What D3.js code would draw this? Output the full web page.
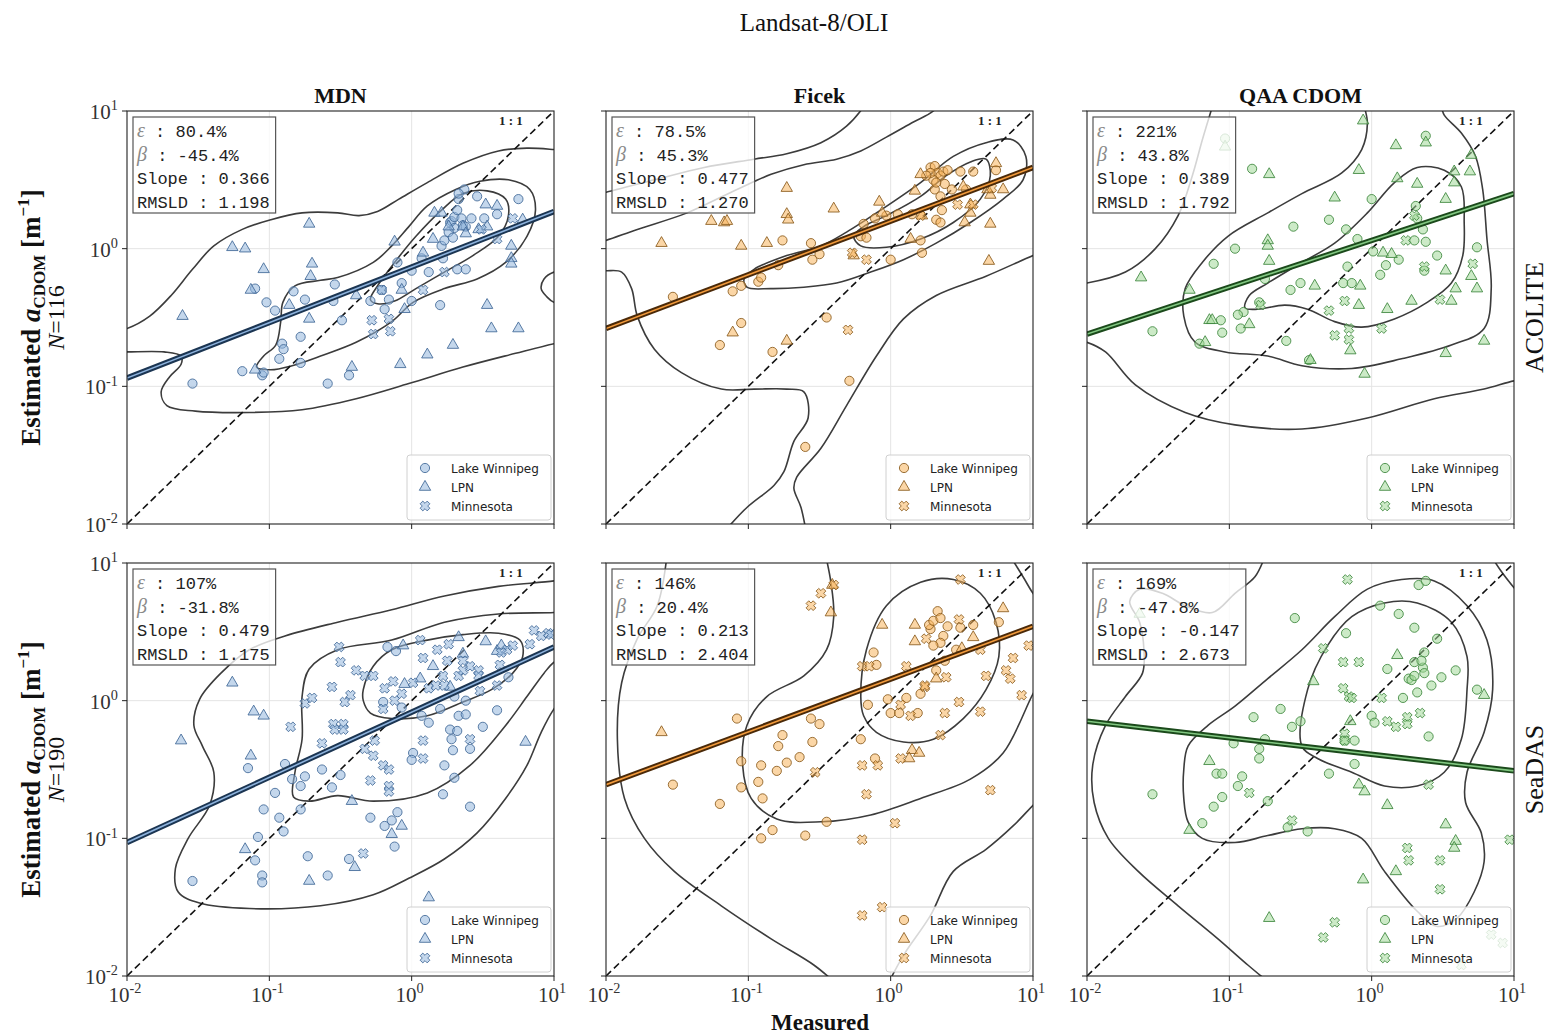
<!DOCTYPE html>
<html>
<head>
<meta charset="utf-8">
<script src="https://cdn.jsdelivr.net/npm/d3@7"></script>
<style>
  body { margin: 0; background: #fff; }
</style>
</head>
<body>
<svg id="chart" width="1550" height="1035"></svg>
<script>
// ---------------------------------------------------------------
// Figure labels
// ---------------------------------------------------------------
const figureTitle = "Landsat-8/OLI";
const methodNames = ["MDN", "Ficek", "QAA CDOM"];
const processorNames = ["ACOLITE", "SeaDAS"];
const sampleCounts = [116, 190];
const siteNames = ["Lake Winnipeg", "LPN", "Minnesota"];
const tickValues = [0.01, 0.1, 1, 10];
const tickExponents = ["-2", "-1", "0", "1"];

// Metrics per panel (row-major: ACOLITE row, then SeaDAS row)
const epsilonValues = ["80.4%", "78.5%", "221%", "107%", "146%", "169%"];
const betaValues = ["-45.4%", "45.3%", "43.8%", "-31.8%", "20.4%", "-47.8%"];
const slopeValues = ["0.366", "0.477", "0.389", "0.479", "0.213", "-0.147"];
const rmsldValues = ["1.198", "1.270", "1.792", "1.175", "2.404", "2.673"];

// Fitted line: log10(estimated) at measured = 0.01 and measured = 10
const fitLines = [
  [-0.94, 0.27], [-0.58, 0.59], [-0.62, 0.40],
  [-1.03, 0.39], [-0.61, 0.54], [-0.15, -0.51]
];

// ---------------------------------------------------------------
// Matchups, as [log10(measured), log10(estimated)]
// ---------------------------------------------------------------
const mdnAcoliteWinnipeg = [[-1.54,-0.98],[-1.19,-0.89],[-1.05,-0.92],[-1.04,-0.90],[-1.10,-0.29],[-1.02,-0.39],[-0.96,-0.45],[-0.91,-0.69],[-0.90,-0.73],[-0.93,-0.80],[-0.83,-0.31],[-0.78,-0.64],[-0.78,-0.83],[-0.75,-0.37],[-0.59,-0.98],[-0.54,-0.26],[-0.55,-0.38],[-0.49,-0.52],[-0.44,-0.92],[-0.29,-0.38],[-0.21,-0.30],[-0.19,-0.44],[-0.16,-0.37],[-0.10,-0.10],[-0.07,-0.25],[0.00,-0.38],[0.00,-0.16],[0.12,-0.17],[0.07,-0.07],[0.21,0.02],[0.22,-0.07],[0.20,-0.41],[0.23,0.06],[0.27,0.19],[0.28,0.20],[0.30,0.23],[0.32,0.28],[0.33,0.36],[0.37,0.43],[0.33,0.40],[0.32,-0.15],[0.38,-0.15],[0.35,0.22],[0.42,0.22],[0.46,0.38],[0.51,0.22],[0.60,0.25],[0.75,0.36],[0.36,0.17],[0.38,0.16],[0.30,0.15],[0.26,0.12],[0.29,0.08]];
const mdnAcoliteLPN = [[-1.61,-0.49],[-1.26,0.01],[-1.17,0.00],[-1.04,-0.15],[-1.13,-0.30],[-1.10,-0.88],[-0.72,0.18],[-0.70,-0.11],[-0.71,-0.20],[-0.72,-0.51],[-0.86,-0.41],[-0.42,-0.86],[-0.39,-0.34],[-0.08,-0.84],[-0.07,-0.30],[-0.05,-0.44],[0.11,-0.77],[0.29,-0.70],[0.08,-0.03],[0.15,0.07],[0.16,0.26],[0.21,0.26],[0.26,0.16],[0.36,0.16],[0.38,0.11],[0.52,0.32],[0.60,0.31],[0.53,-0.41],[0.56,-0.58],[0.75,-0.58],[0.70,0.02],[0.70,-0.07],[0.70,-0.11],[0.78,0.21],[0.53,0.16],[0.47,0.14],[-0.12,0.05]];
const mdnAcoliteMinnesota = [[-0.28,-0.52],[-0.27,-0.62],[-0.16,-0.51],[-0.15,-0.60],[-0.21,-0.30],[0.23,-0.17],[0.08,-0.30],[0.49,0.14],[0.71,0.22],[0.60,0.07]];

const ficekAcoliteWinnipeg = [[-1.53,-0.35],[-1.20,-0.70],[-1.11,-0.31],[-1.05,-0.27],[-1.05,-0.54],[-0.93,-0.24],[-0.91,-0.21],[-0.83,-0.75],[-0.76,0.06],[-0.79,-0.12],[-0.56,0.04],[-0.55,-0.08],[-0.50,-0.04],[-0.45,-0.50],[-0.29,-0.96],[-0.60,-1.44],[-0.19,0.18],[-0.21,0.09],[-0.17,0.08],[-0.11,0.22],[-0.03,0.24],[0.00,-0.08],[0.05,0.25],[0.15,0.25],[0.22,-0.03],[0.21,0.06],[0.32,0.21],[0.35,0.19],[0.28,0.59],[0.31,0.60],[0.33,0.55],[0.35,0.53],[0.30,0.50],[0.37,0.56],[0.40,0.57],[0.31,0.43],[0.35,0.38],[0.38,0.47],[0.49,0.56],[0.58,0.56],[0.74,0.57],[0.43,0.43],[0.53,0.43],[0.32,0.48],[0.28,0.55],[0.25,0.53],[0.36,0.28]];
const ficekAcoliteLPN = [[-1.61,0.04],[-1.26,0.20],[-1.17,0.19],[-1.15,0.20],[-1.05,0.02],[-0.73,0.44],[-0.73,0.25],[-0.72,0.21],[-0.87,0.04],[-0.40,0.29],[-1.11,-0.61],[-0.73,-0.67],[-0.08,0.34],[-0.06,0.26],[-0.26,-0.05],[0.14,0.07],[0.17,0.42],[0.21,0.54],[0.51,0.45],[0.56,0.26],[0.52,0.19],[0.70,0.39],[0.74,0.62],[0.79,0.43],[0.70,0.18],[0.69,-0.09],[0.68,0.43],[0.56,0.32],[0.22,0.24]];
const ficekAcoliteMinnesota = [[-0.30,-0.59],[-0.27,-0.03],[-0.17,-0.08],[0.47,0.32],[0.71,0.44],[0.58,0.32],[0.21,0.24]];

const qaaAcoliteWinnipeg = [[-1.03,0.80],[-0.84,0.58],[0.38,0.82],[0.31,0.31],[0.32,0.22],[0.36,0.14],[0.30,0.06],[0.38,0.05],[0.46,-0.05],[0.37,-0.16],[0.74,0.01],[0.00,0.36],[-0.30,0.21],[-0.55,0.16],[-0.18,0.14],[-0.10,0.07],[0.01,-0.02],[0.19,-0.08],[0.10,-0.12],[0.06,-0.19],[-0.17,-0.13],[-0.20,-0.25],[-0.14,-0.25],[-0.50,-0.25],[-0.57,-0.30],[-0.75,-0.22],[-0.79,-0.39],[-0.96,0.00],[-1.11,-0.11],[-1.06,-0.52],[-1.05,-0.61],[-0.92,-0.58],[-0.90,-0.46],[-0.94,-0.48],[-0.60,-0.67],[-1.21,-0.69],[-1.54,-0.60],[-0.44,-0.81]];
const qaaAcoliteLPN = [[-1.03,0.74],[-0.72,0.54],[-0.06,0.93],[0.17,0.75],[0.38,0.77],[0.70,0.68],[0.69,0.56],[0.58,0.56],[0.18,0.51],[0.32,0.47],[0.58,0.48],[-0.09,0.57],[-0.26,0.37],[0.52,0.36],[-0.73,0.06],[-0.73,0.02],[-0.72,-0.09],[-1.62,-0.21],[-1.28,-0.30],[-1.14,-0.52],[-1.12,-0.52],[-1.17,-0.68],[-0.86,-0.55],[-0.40,-0.27],[-0.08,-0.27],[-0.09,-0.41],[0.11,-0.44],[0.28,-0.38],[0.08,-0.03],[0.14,-0.04],[0.52,-0.16],[0.59,-0.29],[0.56,-0.38],[0.70,-0.20],[0.74,-0.29],[0.79,-0.67],[0.52,-0.76],[-0.05,-0.91],[-0.15,-0.74],[-0.43,-0.81]];
const qaaAcoliteMinnesota = [[-0.78,-0.41],[-0.30,-0.45],[-0.19,-0.38],[-0.16,-0.58],[-0.16,-0.66],[-0.26,-0.63],[0.07,-0.58],[0.24,0.06],[0.30,0.24],[0.37,-0.13],[0.48,-0.37],[0.71,-0.11]];

const mdnSeadasWinnipeg = [[-1.54,-1.31],[-1.15,-0.49],[-1.08,-0.99],[-1.10,-1.16],[-1.05,-1.27],[-1.05,-1.32],[-1.04,-0.79],[-0.96,-0.67],[-0.93,-0.85],[-0.90,-0.95],[-0.89,-0.46],[-0.84,-0.57],[-0.78,-0.62],[-0.75,-0.55],[-0.78,-0.79],[-0.73,-1.13],[-0.63,-0.50],[-0.56,-0.63],[-0.50,-0.54],[-0.59,-1.27],[-0.44,-1.15],[-0.29,-0.85],[-0.19,-0.91],[-0.14,-0.87],[-0.10,-0.81],[-0.12,-1.06],[-0.20,-0.01],[-0.17,0.39],[-0.11,0.36],[-0.07,-0.05],[0.01,-0.38],[0.00,-0.43],[0.07,-0.11],[0.12,-0.16],[0.20,-0.06],[0.23,-0.47],[0.22,-0.68],[0.30,-0.56],[0.27,-0.21],[0.28,-0.28],[0.32,-0.22],[0.33,-0.11],[0.29,-0.36],[0.38,0.00],[0.38,-0.10],[0.41,-0.35],[0.41,-0.77],[0.50,-0.19],[0.60,-0.07],[0.68,0.17],[0.30,0.03]];
const mdnSeadasLPN = [[-1.62,-0.29],[-1.26,0.13],[-1.11,-0.08],[-1.04,-0.11],[-1.13,-0.40],[-1.17,-1.08],[-0.72,-1.31],[-0.42,-0.73],[-0.40,-1.21],[-0.14,-0.97],[-0.07,-0.91],[0.12,-1.43],[-0.06,0.40],[-0.05,0.12],[0.15,0.25],[0.27,0.10],[0.33,0.46],[0.52,0.43],[0.60,0.36],[0.63,0.40],[0.80,-0.30],[0.06,0.16],[0.36,0.34]];
const mdnSeadasMinnesota = [[-0.51,0.39],[-0.56,0.10],[-0.50,0.28],[-0.43,0.04],[-0.47,-0.01],[-0.55,-0.17],[-0.54,-0.21],[-0.48,-0.17],[-0.48,-0.21],[-0.85,-0.19],[-0.75,-0.02],[-0.70,0.02],[-0.63,-0.31],[-0.39,0.22],[-0.33,0.18],[-0.27,0.18],[-0.33,-0.35],[-0.29,-0.58],[-0.34,-1.11],[-0.27,-0.40],[-0.26,-0.29],[-0.20,-0.47],[-0.16,-0.50],[-0.16,-0.62],[-0.16,-0.66],[-0.20,-0.06],[-0.19,0.09],[-0.13,0.14],[-0.12,0.00],[-0.07,0.05],[0.01,0.13],[0.06,0.44],[0.08,0.31],[0.08,-0.29],[0.08,-0.42],[0.12,0.09],[0.17,0.11],[0.23,0.11],[0.26,0.41],[0.22,0.18],[0.33,0.18],[0.36,0.22],[0.41,0.25],[0.36,0.29],[0.47,0.22],[0.48,0.07],[0.41,-0.28],[0.47,0.18],[0.62,0.26],[0.67,0.37],[0.71,0.40],[0.63,0.35],[0.83,0.41],[0.86,0.51],[0.91,0.47],[0.96,0.49],[0.98,0.48],[0.18,0.37],[0.25,0.29],[0.60,0.11]];

const ficekSeadasWinnipeg = [[-1.53,-0.61],[-1.20,-0.75],[-1.08,-0.13],[-1.05,-0.44],[-1.05,-0.63],[-0.91,-0.47],[-0.93,-0.59],[-0.90,-0.71],[-0.91,-1.00],[-0.83,-0.94],[-0.79,-0.33],[-0.76,-0.25],[-0.80,-0.51],[-0.73,-0.45],[-0.64,-0.41],[-0.60,-0.98],[-0.56,-0.13],[-0.50,-0.17],[-0.55,-0.30],[-0.45,-0.88],[-0.21,-0.28],[-0.16,-0.03],[-0.12,0.35],[-0.11,-0.42],[-0.10,0.26],[-0.02,0.01],[0.00,-0.09],[0.06,-0.09],[0.11,0.02],[0.19,-0.09],[0.21,0.05],[0.32,0.22],[0.33,0.65],[0.28,0.52],[0.27,0.55],[0.30,0.58],[0.35,0.60],[0.40,0.54],[0.37,0.47],[0.35,0.42],[0.30,0.40],[0.46,0.37],[0.38,0.29],[0.58,0.55],[0.76,0.57],[0.49,0.53]];
const ficekSeadasLPN = [[-1.61,-0.23],[-0.41,0.84],[-0.42,0.64],[-0.06,0.55],[0.17,0.55],[0.17,0.43],[0.32,0.16],[0.58,0.46],[0.79,0.67],[0.15,-0.36],[0.13,-0.42],[0.20,-0.38],[0.50,0.38]];
const ficekSeadasMinnesota = [[-0.49,0.78],[-0.56,0.69],[-0.40,0.84],[-0.20,0.25],[-0.15,0.25],[0.11,0.25],[0.25,0.45],[0.24,0.10],[0.48,0.59],[0.49,0.88],[0.39,0.17],[0.38,-0.09],[0.35,-0.25],[0.14,-0.11],[0.07,-0.03],[0.07,-0.42],[0.48,-0.01],[0.63,-0.08],[0.67,0.18],[0.70,-0.65],[0.81,0.22],[0.84,0.16],[0.86,0.31],[0.92,0.04],[0.97,0.40],[-0.20,-0.47],[-0.09,-0.47],[-0.17,-0.68],[-0.20,-1.01],[0.03,-0.89],[-0.20,-1.56],[-0.06,-1.50],[-0.53,-0.52],[0.63,0.37],[0.24,0.11]];

const qaaSeadasWinnipeg = [[-1.54,-0.68],[-1.11,-0.77],[-1.09,-0.53],[-1.05,-0.53],[-1.05,-0.70],[-1.19,-0.89],[-0.94,-0.62],[-0.91,-0.55],[-0.97,-0.31],[-0.83,-0.12],[-0.79,-0.35],[-0.79,-0.42],[-0.75,-0.28],[-0.73,-0.73],[-0.64,-0.06],[-0.59,-0.92],[-0.56,-0.19],[-0.50,-0.15],[-0.54,0.60],[-0.45,-0.95],[-0.30,-0.53],[-0.18,0.49],[-0.19,-0.29],[-0.12,-0.29],[-0.12,-0.46],[0.00,-0.11],[0.02,-0.16],[0.06,0.69],[0.19,0.63],[0.11,0.23],[0.22,0.02],[0.30,0.53],[0.33,0.84],[0.38,0.87],[0.26,0.16],[0.28,0.15],[0.30,0.18],[0.30,0.28],[0.36,0.24],[0.37,0.20],[0.42,0.11],[0.32,0.06],[0.37,0.35],[0.35,0.29],[0.49,0.17],[0.46,0.45],[0.59,0.22],[0.40,-0.26],[0.74,0.08]];
const qaaSeadasLPN = [[-1.63,0.63],[-1.14,-0.44],[-1.28,-0.94],[-0.72,-1.58],[-0.41,0.14],[-0.15,-0.15],[-0.09,-0.61],[-0.05,-0.66],[0.11,-0.76],[0.17,-1.24],[-0.06,-1.30],[0.18,0.33],[0.52,-0.90],[0.59,-1.02],[0.58,-1.07],[0.79,0.04]];
const qaaSeadasMinnesota = [[-0.17,0.88],[-0.34,0.38],[-0.20,0.28],[-0.09,0.28],[-0.20,0.09],[-0.16,0.03],[-0.14,0.02],[0.07,0.02],[0.11,-0.15],[0.17,-0.19],[0.25,-0.12],[0.25,-0.17],[0.34,-0.09],[0.40,-0.61],[-0.19,-0.24],[-0.19,-0.29],[-0.86,-0.67],[-0.56,-0.87],[0.25,-1.07],[0.26,-1.16],[0.48,-1.16],[0.48,-1.37],[-0.26,-1.61],[-0.34,-1.72],[0.97,-1.01],[0.84,-1.70],[0.92,-1.76],[0.63,-1.92]];

// ---------------------------------------------------------------
// Density contour traces, [log10(measured), log10(estimated)]
// (pieces that leave the frame are clipped to the axes)
// ---------------------------------------------------------------
const mdnAcoliteContours = [
  { closed: false, pts: [[-2.1,-0.6],[-2.0,-0.58],[-1.84,-0.49],[-1.69,-0.34],[-1.54,-0.15],[-1.39,0.02],[-1.19,0.14],[-0.99,0.21],[-0.77,0.26],[-0.52,0.26],[-0.37,0.24],[-0.24,0.27],[-0.09,0.36],[0.11,0.48],[0.36,0.62],[0.61,0.71],[0.81,0.73],[1.0,0.72],[1.1,0.71]] },
  { closed: false, pts: [[1.1,-0.67],[1.0,-0.69],[0.73,-0.76],[0.36,-0.86],[-0.02,-0.98],[-0.39,-1.09],[-0.77,-1.17],[-1.14,-1.19],[-1.52,-1.18],[-1.72,-1.14],[-1.76,-1.04],[-1.70,-0.93],[-1.62,-0.84],[-1.62,-0.78],[-1.74,-0.75],[-2.0,-0.75],[-2.1,-0.75]] },
  { closed: true, pts: [[-1.09,-0.86],[-1.04,-0.78],[-0.955,-0.70],[-0.92,-0.53],[-0.905,-0.39],[-0.82,-0.27],[-0.64,-0.23],[-0.52,-0.21],[-0.27,-0.10],[-0.14,0.02],[-0.02,0.16],[0.11,0.31],[0.31,0.43],[0.48,0.49],[0.68,0.50],[0.83,0.43],[0.87,0.28],[0.81,0.09],[0.66,-0.10],[0.46,-0.22],[0.23,-0.29],[0.01,-0.39],[-0.14,-0.53],[-0.39,-0.68],[-0.64,-0.78],[-0.84,-0.85],[-0.99,-0.88]] },
  { closed: true, pts: [[-0.29,-0.37],[-0.24,-0.27],[-0.12,-0.10],[0.03,0.09],[0.21,0.28],[0.36,0.40],[0.53,0.42],[0.66,0.36],[0.68,0.24],[0.61,0.09],[0.43,-0.05],[0.23,-0.17],[0.03,-0.29],[-0.12,-0.38],[-0.24,-0.40]] },
  { closed: false, pts: [[1.1,-0.16],[1.0,-0.17],[0.93,-0.22],[0.91,-0.29],[0.95,-0.35],[1.0,-0.39],[1.1,-0.40]] }
];
const ficekAcoliteContours = [
  { closed: false, pts: [[-2.1,0.38],[-2.0,0.41],[-1.66,0.50],[-1.31,0.59],[-0.96,0.65],[-0.73,0.69],[-0.49,0.77],[-0.31,0.89],[-0.19,1.03],[-0.15,1.1]] },
  { closed: false, pts: [[-2.1,0.03],[-2.0,0.06],[-1.78,0.14],[-1.43,0.26],[-1.08,0.43],[-0.84,0.54],[-0.61,0.61],[-0.38,0.65],[-0.21,0.71],[-0.03,0.81],[0.16,0.92],[0.30,1.00],[0.36,1.08]] },
  { closed: false, pts: [[1.1,-0.01],[1.0,-0.05],[0.67,-0.20],[0.32,-0.34],[0.09,-0.51],[-0.10,-0.78],[-0.31,-1.14],[-0.49,-1.45],[-0.66,-1.66],[-0.68,-1.74],[-0.63,-1.88],[-0.59,-2.08]] },
  { closed: false, pts: [[-2.1,-0.16],[-2.0,-0.16],[-1.89,-0.17],[-1.82,-0.29],[-1.78,-0.49],[-1.66,-0.73],[-1.47,-0.90],[-1.19,-1.02],[-0.96,-1.02],[-0.73,-1.02],[-0.61,-1.04],[-0.58,-1.23],[-0.68,-1.40],[-0.75,-1.62],[-0.82,-1.72],[-1.01,-1.88],[-1.19,-2.08]] },
  { closed: true, pts: [[-1.03,-0.22],[-0.96,-0.15],[-0.73,-0.05],[-0.49,0.02],[-0.31,0.12],[-0.07,0.28],[0.21,0.48],[0.44,0.67],[0.67,0.77],[0.86,0.79],[0.95,0.67],[0.93,0.50],[0.79,0.36],[0.56,0.19],[0.32,0.04],[0.09,-0.08],[-0.14,-0.17],[-0.38,-0.25],[-0.61,-0.28],[-0.84,-0.29],[-1.01,-0.28]] },
  { closed: true, pts: [[-0.26,0.09],[-0.19,0.16],[-0.03,0.24],[0.21,0.38],[0.39,0.53],[0.56,0.63],[0.67,0.65],[0.70,0.53],[0.63,0.36],[0.44,0.19],[0.21,0.07],[-0.03,0.01],[-0.21,0.02]] }
];
const qaaAcoliteContours = [
  { closed: false, pts: [[-2.1,-0.26],[-2.0,-0.25],[-1.73,-0.17],[-1.52,0.00],[-1.36,0.24],[-1.26,0.53],[-1.19,0.79],[-1.12,1.03],[-1.10,1.1]] },
  { closed: false, pts: [[-0.06,1.1],[-0.05,1.03],[-0.03,0.91],[-0.07,0.72],[-0.21,0.55],[-0.49,0.40],[-0.73,0.26],[-1.01,0.09],[-1.19,-0.10],[-1.31,-0.29],[-1.32,-0.49],[-1.24,-0.68],[-1.03,-0.75],[-0.73,-0.78],[-0.49,-0.85],[-0.14,-0.87],[0.21,-0.80],[0.56,-0.70],[0.79,-0.58],[0.84,-0.29],[0.81,0.07],[0.78,0.43],[0.73,0.67],[0.63,0.84],[0.51,0.97],[0.49,1.03],[0.47,1.1]] },
  { closed: true, pts: [[-0.89,-0.43],[-0.86,-0.34],[-0.73,-0.25],[-0.49,-0.10],[-0.26,0.04],[-0.03,0.26],[0.16,0.48],[0.32,0.59],[0.51,0.57],[0.63,0.45],[0.65,0.19],[0.64,-0.05],[0.56,-0.25],[0.39,-0.39],[0.16,-0.51],[-0.07,-0.57],[-0.26,-0.53],[-0.45,-0.44],[-0.61,-0.41],[-0.80,-0.44]] },
  { closed: false, pts: [[-2.1,-0.66],[-2.0,-0.68],[-1.87,-0.75],[-1.66,-0.99],[-1.31,-1.19],[-0.96,-1.28],[-0.49,-1.31],[-0.03,-1.23],[0.44,-1.09],[0.79,-1.02],[1.0,-0.96],[1.1,-0.95]] }
];
const mdnSeadasContours = [
  { closed: false, pts: [[1.1,0.89],[1.0,0.87],[0.61,0.83],[0.23,0.76],[-0.14,0.66],[-0.52,0.57],[-0.89,0.47],[-1.14,0.37],[-1.34,0.20],[-1.49,0.01],[-1.53,-0.18],[-1.47,-0.33],[-1.39,-0.52],[-1.42,-0.76],[-1.57,-1.00],[-1.66,-1.22],[-1.64,-1.39],[-1.49,-1.47],[-1.14,-1.51],[-0.64,-1.49],[-0.27,-1.41],[-0.02,-1.29],[0.23,-1.15],[0.46,-0.96],[0.66,-0.71],[0.81,-0.47],[0.91,-0.23],[1.0,-0.06],[1.1,0.06]] },
  { closed: false, pts: [[1.1,0.65],[1.0,0.64],[0.61,0.63],[0.23,0.57],[-0.14,0.44],[-0.52,0.37],[-0.72,0.23],[-0.77,0.03],[-0.77,-0.28],[-0.82,-0.52],[-0.83,-0.70],[-0.72,-0.73],[-0.52,-0.69],[-0.27,-0.73],[0.11,-0.67],[0.41,-0.47],[0.66,-0.18],[0.81,0.03],[0.93,0.20],[1.0,0.28],[1.1,0.33]] },
  { closed: true, pts: [[-0.34,0.08],[-0.27,0.25],[-0.14,0.37],[0.11,0.44],[0.36,0.48],[0.61,0.49],[0.76,0.44],[0.78,0.32],[0.71,0.20],[0.56,0.08],[0.36,-0.01],[0.11,-0.11],[-0.14,-0.13],[-0.29,-0.09],[-0.34,0.00]] }
];
const ficekSeadasContours = [
  { closed: false, pts: [[-1.57,1.07],[-1.64,0.69],[-1.78,0.45],[-1.89,0.13],[-1.92,-0.28],[-1.87,-0.71],[-1.73,-1.00],[-1.52,-1.24],[-1.19,-1.49],[-0.84,-1.73],[-0.54,-1.92],[-0.40,-2.04]] },
  { closed: false, pts: [[-0.02,-2.06],[0.09,-1.85],[0.28,-1.56],[0.44,-1.24],[0.67,-1.08],[0.86,-0.91],[1.0,-0.76],[1.05,-0.71]] },
  { closed: false, pts: [[0.84,1.05],[0.93,0.90],[1.0,0.78],[1.05,0.72]] },
  { closed: false, pts: [[-0.46,1.07],[-0.42,0.86],[-0.40,0.61],[-0.45,0.37],[-0.61,0.18],[-0.87,0.03],[-1.01,-0.18],[-1.04,-0.47],[-0.98,-0.71],[-0.80,-0.86],[-0.49,-0.88],[-0.14,-0.83],[0.21,-0.71],[0.56,-0.57],[0.79,-0.38],[1.0,0.05],[1.05,0.13]] },
  { closed: true, pts: [[-0.21,0.03],[-0.17,0.37],[-0.03,0.69],[0.21,0.86],[0.44,0.88],[0.63,0.78],[0.74,0.57],[0.76,0.32],[0.67,0.08],[0.51,-0.13],[0.30,-0.28],[0.09,-0.30],[-0.10,-0.23],[-0.19,-0.11]] }
];
const qaaSeadasContours = [
  { closed: false, pts: [[-0.75,1.05],[-0.82,0.90],[-0.96,0.78],[-1.12,0.64],[-1.31,0.69],[-1.47,0.78],[-1.63,0.81],[-1.70,0.72],[-1.63,0.57],[-1.60,0.37],[-1.61,0.20],[-1.73,0.03],[-1.87,-0.18],[-1.96,-0.47],[-1.95,-0.74],[-1.85,-1.00],[-1.64,-1.24],[-1.36,-1.49],[-1.08,-1.73],[-0.87,-1.92],[-0.73,-2.04]] },
  { closed: false, pts: [[0.84,1.05],[0.91,0.94],[1.0,0.82],[1.05,0.76]] },
  { closed: true, pts: [[-1.32,-0.50],[-1.29,-0.33],[-1.15,-0.18],[-0.96,-0.04],[-0.73,0.16],[-0.49,0.37],[-0.26,0.61],[-0.03,0.81],[0.21,0.88],[0.44,0.87],[0.67,0.69],[0.81,0.44],[0.85,0.08],[0.79,-0.23],[0.67,-0.52],[0.66,-0.74],[0.77,-0.96],[0.79,-1.17],[0.72,-1.39],[0.60,-1.58],[0.46,-1.64],[0.32,-1.53],[0.09,-1.24],[-0.07,-1.00],[-0.26,-0.93],[-0.49,-0.93],[-0.73,-0.98],[-0.96,-1.03],[-1.19,-1.00],[-1.29,-0.88],[-1.32,-0.71]] },
  { closed: true, pts: [[-0.49,-0.33],[-0.45,0.08],[-0.31,0.40],[-0.14,0.61],[0.09,0.71],[0.32,0.71],[0.56,0.57],[0.67,0.32],[0.67,0.08],[0.63,-0.28],[0.51,-0.52],[0.32,-0.62],[0.09,-0.62],[-0.14,-0.52],[-0.38,-0.42]] }
];

// ---------------------------------------------------------------
// Panel assembly
// ---------------------------------------------------------------
const panelData = [
  { sites: [mdnAcoliteWinnipeg, mdnAcoliteLPN, mdnAcoliteMinnesota], contours: mdnAcoliteContours },
  { sites: [ficekAcoliteWinnipeg, ficekAcoliteLPN, ficekAcoliteMinnesota], contours: ficekAcoliteContours },
  { sites: [qaaAcoliteWinnipeg, qaaAcoliteLPN, qaaAcoliteMinnesota], contours: qaaAcoliteContours },
  { sites: [mdnSeadasWinnipeg, mdnSeadasLPN, mdnSeadasMinnesota], contours: mdnSeadasContours },
  { sites: [ficekSeadasWinnipeg, ficekSeadasLPN, ficekSeadasMinnesota], contours: ficekSeadasContours },
  { sites: [qaaSeadasWinnipeg, qaaSeadasLPN, qaaSeadasMinnesota], contours: qaaSeadasContours }
];

const palettes = [
  { fill: "#93b6dc", edge: "#3f6796", lineOuter: "#1b3552", lineInner: "#8db2dc" },
  { fill: "#f8b45c", edge: "#8a5a1c", lineOuter: "#4a2908", lineInner: "#f19a3c" },
  { fill: "#a2d999", edge: "#3c863c", lineOuter: "#1b4a1b", lineInner: "#82c882" }
];

const SERIF = "'Liberation Serif','DejaVu Serif',serif";
const MONO = "'Liberation Mono','DejaVu Sans Mono',monospace";
const SANS = "'DejaVu Sans','Open Sans',sans-serif";

const colX = [127, 606, 1087];
const rowY = [111, 563];
const PW = 427, PH = 413;

const svg = d3.select("#chart");
const defs = svg.append("defs");

// marker shapes
const circleShape = d3.symbol(d3.symbolCircle, Math.PI * 4.6 * 4.6)();
const triangleShape = d3.symbol(d3.symbolTriangle, 56)();
function crossShape(s, w) {
  const p = [[-w,-s],[w,-s],[w,-w],[s,-w],[s,w],[w,w],[w,s],[-w,s],[-w,w],[-s,w],[-s,-w],[-w,-w]];
  const c = Math.SQRT1_2;
  return "M" + p.map(([a, b]) => [((a - b) * c).toFixed(2), ((a + b) * c).toFixed(2)].join(",")).join("L") + "Z";
}
const markerShapes = [circleShape, triangleShape, crossShape(5.0, 1.9)];

function powerLabel(sel, exponent, baseSize) {
  sel.append("tspan").text("10");
  sel.append("tspan").attr("dy", -baseSize * 0.42).attr("font-size", baseSize * 0.68).text(exponent);
}

// ---------------------------------------------------------------
// Draw panels
// ---------------------------------------------------------------
panelData.forEach((panel, i) => {
  const row = Math.floor(i / 3), col = i % 3;
  const pal = palettes[col];
  const x = d3.scaleLog().domain([0.01, 10]).range([colX[col], colX[col] + PW]);
  const y = d3.scaleLog().domain([0.01, 10]).range([rowY[row] + PH, rowY[row]]);
  const g = svg.append("g").attr("class", "panel");

  const clipId = "clip" + i;
  defs.append("clipPath").attr("id", clipId)
    .append("rect").attr("x", colX[col]).attr("y", rowY[row]).attr("width", PW).attr("height", PH);

  const plot = g.append("g").attr("clip-path", `url(#${clipId})`);

  // grid
  plot.selectAll(".gx").data([0.1, 1]).join("line")
    .attr("x1", d => x(d)).attr("x2", d => x(d))
    .attr("y1", rowY[row]).attr("y2", rowY[row] + PH)
    .attr("stroke", "#e4e4e4").attr("stroke-width", 1);
  plot.selectAll(".gy").data([0.1, 1]).join("line")
    .attr("y1", d => y(d)).attr("y2", d => y(d))
    .attr("x1", colX[col]).attr("x2", colX[col] + PW)
    .attr("stroke", "#e4e4e4").attr("stroke-width", 1);

  // density contours
  panel.contours.forEach(c => {
    const line = d3.line()
      .x(d => x(Math.pow(10, d[0])))
      .y(d => y(Math.pow(10, d[1])))
      .curve(c.closed ? d3.curveCatmullRomClosed.alpha(0.5) : d3.curveCatmullRom.alpha(0.5));
    plot.append("path").attr("d", line(c.pts))
      .attr("fill", "none").attr("stroke", "#3c3c3c").attr("stroke-width", 1.6);
  });

  // 1:1 line
  plot.append("line")
    .attr("x1", x(0.01)).attr("y1", y(0.01)).attr("x2", x(10)).attr("y2", y(10))
    .attr("stroke", "#111").attr("stroke-width", 1.6).attr("stroke-dasharray", "7,4");

  // scatter points by site
  panel.sites.forEach((pts, s) => {
    plot.selectAll(null).data(pts).join("path")
      .attr("d", markerShapes[s])
      .attr("transform", d => `translate(${x(Math.pow(10, d[0]))},${y(Math.pow(10, d[1]))})`)
      .attr("fill", pal.fill).attr("fill-opacity", 0.55)
      .attr("stroke", pal.edge).attr("stroke-opacity", 0.85).attr("stroke-width", 1);
  });

  // fitted line (dark casing with light core)
  const fit = fitLines[i];
  const fitPts = [[0.01, Math.pow(10, fit[0])], [10, Math.pow(10, fit[1])]];
  const fitLine = d3.line().x(d => x(d[0])).y(d => y(d[1]));
  plot.append("path").attr("d", fitLine(fitPts))
    .attr("stroke", pal.lineOuter).attr("stroke-width", 5.5).attr("fill", "none");
  plot.append("path").attr("d", fitLine(fitPts))
    .attr("stroke", pal.lineInner).attr("stroke-width", 1.6).attr("fill", "none");

  // "1 : 1" tag
  g.append("text")
    .attr("x", colX[col] + PW - 55).attr("y", rowY[row] + 14)
    .attr("font-family", SERIF).attr("font-weight", "bold").attr("font-size", 13)
    .attr("fill", "#222").text("1 : 1");

  // metrics box
  const box = g.append("g");
  const boxRect = box.append("rect")
    .attr("x", colX[col] + 6).attr("y", rowY[row] + 6)
    .attr("height", 96)
    .attr("fill", "#fff").attr("fill-opacity", 0.78)
    .attr("stroke", "#555").attr("stroke-width", 1.2);
  const lines = [
    { sym: "ε", rest: " : " + epsilonValues[i] },
    { sym: "β", rest: " : " + betaValues[i] },
    { sym: null, rest: "Slope : " + slopeValues[i] },
    { sym: null, rest: "RMSLD : " + rmsldValues[i] }
  ];
  let maxW = 0;
  lines.forEach((ln, k) => {
    const t = box.append("text")
      .attr("x", colX[col] + 10).attr("y", rowY[row] + 26 + k * 23.5)
      .attr("font-size", 17).attr("fill", "#222");
    if (ln.sym) {
      t.append("tspan").attr("font-family", SERIF).attr("font-style", "italic")
        .attr("font-size", 20).attr("fill", "#8a8a8a").text(ln.sym);
      t.append("tspan").attr("font-family", MONO).text(ln.rest);
    } else {
      t.append("tspan").attr("font-family", MONO).text(ln.rest);
    }
    maxW = Math.max(maxW, t.node().getComputedTextLength());
  });
  boxRect.attr("width", maxW + 10);

  // legend
  const lgW = 144, lgH = 65;
  const lgX = colX[col] + PW - lgW - 3, lgY = rowY[row] + PH - lgH - 4;
  const lg = g.append("g");
  lg.append("rect").attr("x", lgX).attr("y", lgY).attr("width", lgW).attr("height", lgH)
    .attr("rx", 3).attr("fill", "#fff").attr("fill-opacity", 0.8)
    .attr("stroke", "#d0d0d0").attr("stroke-width", 1);
  siteNames.forEach((name, s) => {
    const cy = lgY + 13 + s * 19;
    lg.append("path").attr("d", markerShapes[s])
      .attr("transform", `translate(${lgX + 18},${cy})`)
      .attr("fill", pal.fill).attr("fill-opacity", 0.55)
      .attr("stroke", pal.edge).attr("stroke-opacity", 0.85).attr("stroke-width", 1);
    lg.append("text").attr("x", lgX + 44).attr("y", cy + 4.5)
      .attr("font-family", SANS).attr("font-size", 12).attr("fill", "#222").text(name);
  });

  // ticks
  tickValues.forEach(v => {
    g.append("line").attr("x1", colX[col] - 5).attr("x2", colX[col])
      .attr("y1", y(v)).attr("y2", y(v)).attr("stroke", "#222").attr("stroke-width", 1);
    g.append("line").attr("y1", rowY[row] + PH).attr("y2", rowY[row] + PH + 5)
      .attr("x1", x(v)).attr("x2", x(v)).attr("stroke", "#222").attr("stroke-width", 1);
  });

  // frame
  g.append("rect").attr("x", colX[col]).attr("y", rowY[row]).attr("width", PW).attr("height", PH)
    .attr("fill", "none").attr("stroke", "#222").attr("stroke-width", 1.1);

  // tick labels
  if (col === 0) {
    tickValues.forEach((v, k) => {
      const t = g.append("text").attr("x", colX[col] - 9).attr("y", y(v) + 8)
        .attr("text-anchor", "end").attr("font-family", SERIF).attr("font-size", 21).attr("fill", "#333");
      powerLabel(t, tickExponents[k], 21);
    });
  }
  if (row === 1) {
    tickValues.forEach((v, k) => {
      const t = g.append("text").attr("x", x(v) - 2).attr("y", rowY[row] + PH + 26)
        .attr("text-anchor", "middle").attr("font-family", SERIF).attr("font-size", 21).attr("fill", "#333");
      powerLabel(t, tickExponents[k], 21);
    });
  }
});

// ---------------------------------------------------------------
// Titles and axis labels
// ---------------------------------------------------------------
svg.append("text").attr("x", 814).attr("y", 31).attr("text-anchor", "middle")
  .attr("font-family", SERIF).attr("font-size", 25).attr("fill", "#111").text(figureTitle);

methodNames.forEach((m, c) => {
  svg.append("text").attr("x", colX[c] + PW / 2).attr("y", 103).attr("text-anchor", "middle")
    .attr("font-family", SERIF).attr("font-weight", "bold").attr("font-size", 22).attr("fill", "#111").text(m);
});

processorNames.forEach((p, r) => {
  svg.append("text")
    .attr("transform", `translate(1543,${rowY[r] + PH / 2}) rotate(-90)`)
    .attr("text-anchor", "middle").attr("font-family", SERIF).attr("font-size", 26).attr("fill", "#111").text(p);
});

sampleCounts.forEach((n, r) => {
  const cy = rowY[r] + PH / 2;
  const t = svg.append("text")
    .attr("transform", `translate(40,${cy}) rotate(-90)`)
    .attr("text-anchor", "middle").attr("font-family", SERIF).attr("font-weight", "bold")
    .attr("font-size", 27).attr("fill", "#111");
  t.append("tspan").text("Estimated ");
  t.append("tspan").attr("font-style", "italic").text("a");
  t.append("tspan").attr("font-size", 17).attr("dy", 5).text("CDOM");
  t.append("tspan").attr("dy", -5).text(" [m");
  t.append("tspan").attr("font-size", 17).attr("dy", -11).text("\u22121");
  t.append("tspan").attr("dy", 11).text("]");

  const t2 = svg.append("text")
    .attr("transform", `translate(64,${cy}) rotate(-90)`)
    .attr("text-anchor", "middle").attr("font-family", SERIF)
    .attr("font-size", 24).attr("fill", "#111");
  t2.append("tspan").attr("font-style", "italic").text("N");
  t2.append("tspan").text("=" + n);
});

svg.append("text").attr("x", 820).attr("y", 1030).attr("text-anchor", "middle")
  .attr("font-family", SERIF).attr("font-weight", "bold").attr("font-size", 23).attr("fill", "#111").text("Measured");
</script>
</body>
</html>
